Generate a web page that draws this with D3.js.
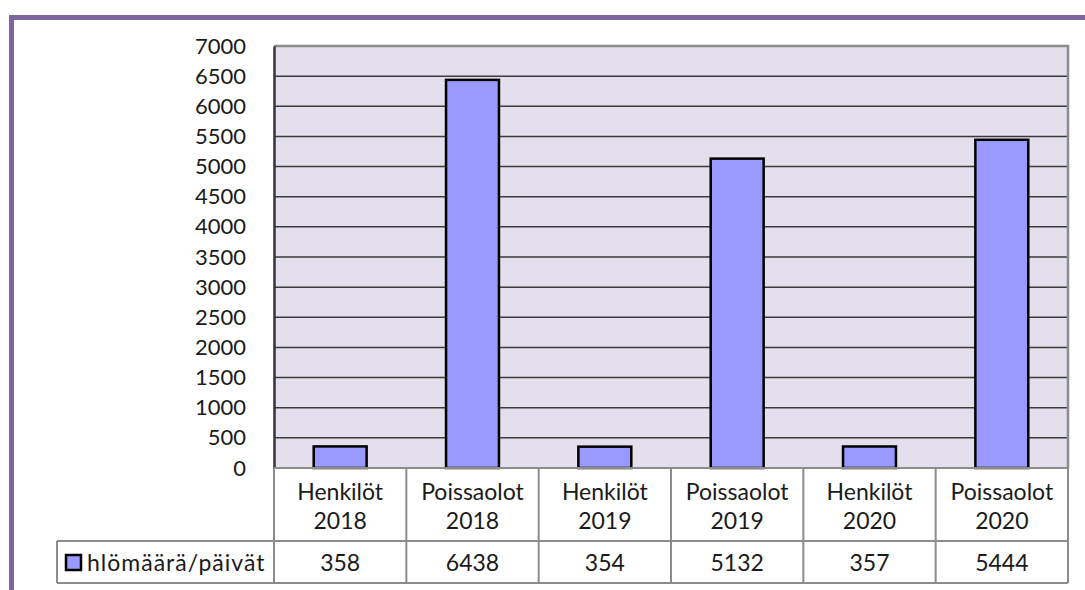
<!DOCTYPE html>
<html><head>
<meta charset="UTF-8">
<title>hlömäärä/päivät</title>
<script src="https://d3js.org/d3.v7.min.js"></script>
<style>
    body { margin: 0; background: #fff; font-family: Lato, "Open Sans", sans-serif; }
    text { fill: #1a1a1a; }
</style>
</head>
<body>
<div id="chart"></div>
<script>
    // data
    const categories = ["Henkilöt 2018", "Poissaolot 2018", "Henkilöt 2019", "Poissaolot 2019", "Henkilöt 2020", "Poissaolot 2020"];
    const values = [358, 6438, 354, 5132, 357, 5444];
    const seriesName = "hlömäärä/päivät";
    const yTicks = d3.range(0, 7001, 500);

    const W = 1085, H = 590;
    const plot = { left: 274, right: 1068, top: 46, bottom: 468 };
    const table = { headerBottom: 541, bottom: 583, legendLeft: 57 };

    const svg = d3.select("#chart").append("svg")
        .attr("width", W).attr("height", H);

    // purple frame
    svg.append("line").attr("x1", 10).attr("x2", W).attr("y1", 17.5).attr("y2", 17.5)
        .attr("stroke", "#8064a2").attr("stroke-width", 5);
    svg.append("line").attr("x1", 11.5).attr("x2", 11.5).attr("y1", 15).attr("y2", H)
        .attr("stroke", "#8064a2").attr("stroke-width", 5);

    const x = d3.scaleBand().domain(categories).range([plot.left, plot.right]).paddingInner(0).paddingOuter(0);
    const y = d3.scaleLinear().domain([0, 7000]).range([plot.bottom, plot.top]);

    // plot background
    svg.append("rect")
        .attr("x", plot.left).attr("y", plot.top)
        .attr("width", plot.right - plot.left).attr("height", plot.bottom - plot.top)
        .attr("fill", "#e4dfec");

    // gridlines
    svg.append("g").selectAll("line").data(yTicks.filter(d => d > 0 && d < 7000)).join("line")
        .attr("x1", plot.left).attr("x2", plot.right)
        .attr("y1", d => y(d)).attr("y2", d => y(d))
        .attr("stroke", "#3a3a3a").attr("stroke-width", 1.5);

    // plot border: top & right gray
    svg.append("path")
        .attr("d", `M${plot.left},${plot.top}H${plot.right}V${plot.bottom}`)
        .attr("fill", "none").attr("stroke", "#8c8c8c").attr("stroke-width", 2.5);

    // y axis
    const yAxis = svg.append("g")
        .attr("transform", `translate(${plot.left},0)`)
        .call(d3.axisLeft(y).tickValues(yTicks).tickSize(0).tickPadding(28).tickFormat(d3.format("d")));
    yAxis.select(".domain").attr("stroke", "#333").attr("stroke-width", 2.5);
    yAxis.selectAll("text").attr("font-size", 22).attr("font-family", "Lato, sans-serif").attr("fill", "#1a1a1a");

    // bars
    const barW = x.bandwidth() * 0.4;
    svg.append("g").selectAll("rect").data(values).join("rect")
        .attr("x", (d, i) => x(categories[i]) + (x.bandwidth() - barW) / 2)
        .attr("y", d => y(d))
        .attr("width", barW)
        .attr("height", d => y(0) - y(d))
        .attr("fill", "#9999ff")
        .attr("stroke", "#000").attr("stroke-width", 2.5);

    // data table
    const tg = svg.append("g").attr("stroke", "#8c8c8c").attr("stroke-width", 2);
    tg.append("line").attr("x1", plot.left).attr("x2", plot.right).attr("y1", plot.bottom).attr("y2", plot.bottom);
    tg.append("line").attr("x1", table.legendLeft).attr("x2", plot.right).attr("y1", table.headerBottom).attr("y2", table.headerBottom);
    tg.append("line").attr("x1", table.legendLeft).attr("x2", plot.right).attr("y1", table.bottom).attr("y2", table.bottom);
    tg.append("line").attr("x1", table.legendLeft).attr("x2", table.legendLeft).attr("y1", table.headerBottom).attr("y2", table.bottom);
    const bounds = categories.map(c => x(c)).concat([plot.right]);
    tg.selectAll(".v").data(bounds).join("line").attr("class", "v")
        .attr("x1", d => d).attr("x2", d => d)
        .attr("y1", plot.bottom).attr("y2", table.bottom);

    // header labels
    const hdr = svg.append("g").selectAll("text").data(categories).join("text")
        .attr("x", d => x(d) + x.bandwidth() / 2)
        .attr("text-anchor", "middle")
        .attr("font-size", 23);
    hdr.append("tspan").attr("x", d => x(d) + x.bandwidth() / 2).attr("y", 500).text(d => d.split(" ")[0]);
    hdr.append("tspan").attr("x", d => x(d) + x.bandwidth() / 2).attr("y", 529).text(d => d.split(" ")[1]);

    // values row
    svg.append("g").selectAll("text").data(values).join("text")
        .attr("x", (d, i) => x(categories[i]) + x.bandwidth() / 2)
        .attr("y", 571)
        .attr("text-anchor", "middle")
        .attr("font-size", 23)
        .text(d => d);

    // legend cell
    svg.append("rect").attr("x", 66).attr("y", 555).attr("width", 15).attr("height", 15)
        .attr("fill", "#9999ff").attr("stroke", "#000").attr("stroke-width", 2.5);
    svg.append("text").attr("x", 87).attr("y", 571).attr("font-size", 23)
        .attr("letter-spacing", 1).text(seriesName);
</script>
</body>
</html>
